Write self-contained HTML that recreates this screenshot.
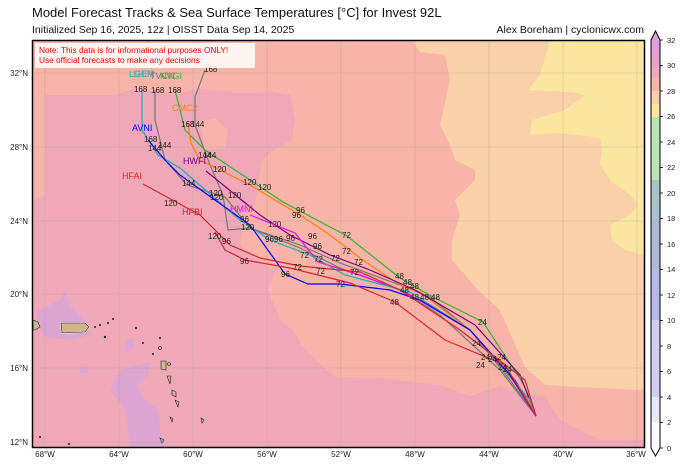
<!DOCTYPE html>
<html><head><meta charset="utf-8"><style>
body{margin:0;background:#fff;}
svg{display:block;font-family:"Liberation Sans","DejaVu Sans",sans-serif;}
</style></head><body>
<svg width="690" height="468" viewBox="0 0 690 468" xmlns="http://www.w3.org/2000/svg">
<text x="32" y="17" font-size="13" fill="#111">Model Forecast Tracks &amp; Sea Surface Temperatures [°C] for Invest 92L</text>
<text x="32" y="33" font-size="10.5" fill="#111">Initialized Sep 16, 2025, 12z | OISST Data Sep 14, 2025</text>
<text x="644" y="33" font-size="10.5" fill="#111" text-anchor="end">Alex Boreham | cyclonicwx.com</text>
<defs><clipPath id="c"><rect x="33" y="41" width="611" height="406"/></clipPath></defs>
<g clip-path="url(#c)">
<rect x="33" y="41" width="611" height="406" fill="#f8b4a8"/>
<!-- pink 29-30 -->
<path d="M33,200 L45,195 L45,95 L115,95 L135,88 L175,95 L200,88 L240,93 L275,92 L290,95 L295,120 L292,140 L275,150 L262,160 L258,185 L255,205 L245,215 L240,245 L265,265 L275,272 L268,290 L280,320 L295,332 L302,346 L322,366 L335,377 L380,378 L440,385 L470,396 L500,386 L520,395 L545,396 L560,420 L600,440 L644,440 L644,447 L33,447 Z" fill="#f0a8b8"/>
<path d="M200,122 L215,118 L228,130 L225,148 L205,150 Z" fill="#f8b4a8"/>
<!-- peach -->
<path d="M412,41 L420,52 L445,55 L450,80 L440,125 L450,145 L455,160 L475,170 L475,180 L455,200 L460,215 L452,240 L452,260 L478,290 L500,310 L513,340 L525,367 L545,385 L578,387 L638,390 L644,390 L644,41 Z" fill="#f9d0a8"/>
<!-- yellow -->
<path d="M550,41 L540,75 L528,90 L570,92 L585,95 L565,110 L532,120 L530,135 L560,133 L600,138 L602,150 L600,165 L610,180 L630,195 L638,205 L630,215 L610,225 L612,240 L625,250 L644,255 L644,41 Z" fill="#fbe6a0"/>
<!-- orchid -->
<path d="M36,312 L50,305 L60,300 L65,290 L70,305 L85,320 L90,335 L70,340 L50,338 L42,334 Z" fill="#dca4d0"/>
<path d="M120,370 L150,362 L148,375 L138,385 L145,400 L158,410 L160,430 L165,447 L130,447 L125,410 L110,390 Z" fill="#dca4d0"/>
<path d="M125,340 L133,338 L135,348 L125,352 Z" fill="#dca4d0"/>
<path d="M80,368 L87,365 L88,373 L80,375 Z" fill="#dca4d0"/>
<!-- grid -->
<g stroke="#999" stroke-width="0.6" opacity="0.5">
<line x1="45" y1="41" x2="45" y2="447"/><line x1="119" y1="41" x2="119" y2="447"/><line x1="193" y1="41" x2="193" y2="447"/><line x1="267" y1="41" x2="267" y2="447"/><line x1="341" y1="41" x2="341" y2="447"/><line x1="415" y1="41" x2="415" y2="447"/><line x1="489" y1="41" x2="489" y2="447"/><line x1="563" y1="41" x2="563" y2="447"/><line x1="637" y1="41" x2="637" y2="447"/>
<line x1="33" y1="73" x2="644" y2="73"/><line x1="33" y1="147" x2="644" y2="147"/><line x1="33" y1="221" x2="644" y2="221"/><line x1="33" y1="294" x2="644" y2="294"/><line x1="33" y1="368" x2="644" y2="368"/><line x1="33" y1="442" x2="644" y2="442"/>
</g>
<!-- land -->
<g fill="#d2b48c" stroke="#222" stroke-width="0.6">
<path d="M33,320 L38,322 L40,327 L35,330 L33,330 Z"/>
<path d="M61,323 L85,323 L89,327 L85,332 L62,333 Z" stroke="#fff" stroke-width="1.5"/>
<path d="M61,323 L85,323 L89,327 L85,332 L62,333 Z"/>
<path d="M161,361 L166,361 L166,370 L161,369 Z"/><path d="M167,376 L171,376 L170,384 Z"/>
<path d="M172,390 L176,392 L176,397 L172,395 Z"/><path d="M175,400 L179,402 L178,407 Z"/>
<path d="M170,417 L173,419 L172,422 Z"/><path d="M201,418 L204,420 L202,423 Z"/>
<path d="M160,438 L164,440 L162,443 Z"/><circle cx="160" cy="348" r="1.5"/><circle cx="169" cy="364" r="1.5"/>
</g>
<g fill="#222"><circle cx="95" cy="327" r="1"/><circle cx="100" cy="325" r="1"/><circle cx="108" cy="323" r="1"/><circle cx="113" cy="319" r="1"/><circle cx="136" cy="328" r="1"/><circle cx="143" cy="343" r="1"/><circle cx="153" cy="354" r="1"/><circle cx="160" cy="338" r="1"/><circle cx="105" cy="337" r="1.2"/><circle cx="40" cy="437" r="1"/><circle cx="69" cy="444" r="1"/></g>
<!-- tracks -->
<g fill="none" stroke-width="1.2">
<polyline stroke="#777" points="205,70 195,97 195,125 210,165 223,195 228,230 250,228 300,245 340,263 400,285 430,297 470,330 510,380 536,416"/>
<polyline stroke="#777" points="155,90 155,120 165,160 187,185 225,197 250,228 300,248 340,268 400,290 440,315 500,370 536,416"/>
<polyline stroke="#2db52d" points="175,90 185,130 205,150 283,202 347,236 400,278 433,297 483,322 524,385 536,416"/>
<polyline stroke="#ff7f0e" points="188,123 191,143 200,160 250,185 300,215 330,235 360,258 400,285 420,292 470,330 525,395 536,416"/>
<polyline stroke="#800080" points="206,171 260,215 290,235 330,255 370,270 415,290 475,325 520,375 536,416"/>
<polyline stroke="#ff00ff" points="250,215 295,233 318,262 360,275 405,292 470,330 515,380 536,416"/>
<polyline stroke="#17b0b0" points="142,90 142,130 158,155 180,168 240,220 270,240 310,255 345,275 410,292 470,330 530,400 536,416"/>
<polyline stroke="#0000ff" points="148,140 165,160 180,175 250,225 285,274 308,284 340,284 390,290 420,300 470,330 510,375 536,416"/>
<polyline stroke="#d62728" points="143,184 200,215 230,245 260,258 300,266 360,272 400,290 460,330 525,380 536,416"/>
<polyline stroke="#d62728" points="215,232 225,250 245,260 290,268 350,283 395,302 445,340 505,365 536,416"/>
</g>
<g font-size="8" fill="#222">
<text x="204" y="72">168</text><text x="134" y="92">168</text><text x="151" y="93">168</text><text x="168" y="93">168</text>
<text x="181" y="127">168</text><text x="191" y="127">144</text><text x="144" y="142">168</text><text x="148" y="151">144</text><text x="158" y="148">144</text>
<text x="198" y="158">144</text><text x="203" y="158">144</text><text x="213" y="172">120</text><text x="182" y="186">144</text>
<text x="243" y="185">120</text><text x="258" y="190">120</text><text x="164" y="206">120</text><text x="209" y="196">120</text><text x="228" y="198">120</text><text x="210" y="200">120</text>
<text x="296" y="213">96</text><text x="292" y="218">96</text><text x="268" y="227">120</text><text x="240" y="222">96</text><text x="241" y="230">120</text>
<text x="208" y="239">120</text><text x="222" y="244">96</text><text x="342" y="238">72</text><text x="308" y="239">96</text><text x="286" y="241">96</text>
<text x="265" y="242">96</text><text x="274" y="242">96</text><text x="342" y="254">72</text><text x="313" y="249">96</text><text x="240" y="264">96</text><text x="331" y="261">72</text>
<text x="300" y="258">72</text><text x="314" y="262">72</text><text x="354" y="265">72</text><text x="293" y="270">72</text><text x="316" y="274">72</text><text x="281" y="277">96</text><text x="350" y="275">72</text><text x="336" y="287">72</text>
<text x="395" y="279">48</text><text x="403" y="285">48</text><text x="410" y="289">48</text><text x="431" y="300">48</text><text x="400" y="293">48</text><text x="410" y="300">48</text><text x="420" y="300">48</text><text x="390" y="305">48</text>
<text x="478" y="325">24</text><text x="472" y="346">24</text><text x="481" y="360">24</text><text x="476" y="368">24</text><text x="488" y="362">24</text><text x="497" y="360">24</text><text x="498" y="370">24</text><text x="503" y="372">24</text>
</g>
<g font-size="9">
<text x="129" y="77" fill="#17b0b0">LGEM</text><text x="132" y="77" fill="#17b0b0" opacity="0.6">SHIP</text><text x="150" y="79" fill="#777">TVCN</text><text x="160" y="79" fill="#2db52d">NVGI</text>
<text x="172" y="111" fill="#ff7f0e">CMC2</text><text x="132" y="131" fill="#0000ff">AVNI</text><text x="183" y="164" fill="#800080">HWFI</text>
<text x="122" y="179" fill="#d62728">HFAI</text><text x="182" y="215" fill="#d62728">HFBI</text><text x="230" y="212" fill="#ff00ff">HMNI</text>
</g>
<rect x="35" y="43" width="220" height="25" fill="#fff" opacity="0.85"/>
<text x="39" y="53" font-size="8.3" fill="#f00">Note: This data is for informational purposes ONLY!</text>
<text x="39" y="63" font-size="8.3" fill="#f00">Use official forecasts to make any decisions</text>
</g>
<rect x="32.5" y="40.5" width="612" height="407" fill="none" stroke="#000" stroke-width="1.5"/>
<g font-size="8" fill="#222">
<text x="28" y="76" text-anchor="end">32°N</text><text x="28" y="150" text-anchor="end">28°N</text><text x="28" y="224" text-anchor="end">24°N</text><text x="28" y="297" text-anchor="end">20°N</text><text x="28" y="371" text-anchor="end">16°N</text><text x="28" y="445" text-anchor="end">12°N</text>
<text x="45" y="457" text-anchor="middle">68°W</text><text x="119" y="457" text-anchor="middle">64°W</text><text x="193" y="457" text-anchor="middle">60°W</text><text x="267" y="457" text-anchor="middle">56°W</text><text x="341" y="457" text-anchor="middle">52°W</text><text x="415" y="457" text-anchor="middle">48°W</text><text x="489" y="457" text-anchor="middle">44°W</text><text x="563" y="457" text-anchor="middle">40°W</text><text x="636" y="457" text-anchor="middle">36°W</text>
</g>
<!-- colorbar -->
<g>
<rect x="651" y="422.5" width="9" height="25.5" fill="#fbfbff"/>
<rect x="651" y="397" width="9" height="25.5" fill="#e8e8f8"/>
<rect x="651" y="320" width="9" height="77" fill="#cfcff2"/>
<rect x="651" y="269" width="9" height="51" fill="#b8b8e6"/>
<rect x="651" y="218" width="9" height="51" fill="#b0b8d8"/>
<rect x="651" y="180" width="9" height="38" fill="#a8c4c8"/>
<rect x="651" y="117" width="9" height="63" fill="#b8e6b8"/>
<rect x="651" y="104" width="9" height="13" fill="#fbe6a0"/>
<rect x="651" y="91" width="9" height="13" fill="#f9d0a8"/>
<rect x="651" y="78" width="9" height="13" fill="#f8b4a8"/>
<rect x="651" y="65" width="9" height="13" fill="#f0a8b8"/>
<rect x="651" y="52" width="9" height="13" fill="#e8a0c8"/>
<rect x="651" y="40" width="9" height="12" fill="#dca0dc"/>
<path d="M651,40 L655.5,31 L660,40 Z" fill="#dca0dc"/>
<path d="M651,448 L655.5,456 L660,448 Z" fill="#fff"/>
<path d="M651,40 L655.5,31 L660,40 L660,448 L655.5,456 L651,448 Z" fill="none" stroke="#000" stroke-width="1"/>
</g>
<g font-size="7.5" fill="#222">
<text x="667" y="43">32</text><text x="667" y="68">30</text><text x="667" y="94">28</text><text x="667" y="119">26</text><text x="667" y="145">24</text><text x="667" y="170">22</text><text x="667" y="196">20</text><text x="667" y="221">18</text><text x="667" y="247">16</text><text x="667" y="272">14</text><text x="667" y="298">12</text><text x="667" y="323">10</text><text x="667" y="349">8</text><text x="667" y="374">6</text><text x="667" y="400">4</text><text x="667" y="425">2</text><text x="667" y="451">0</text>
</g>
<g stroke="#000" stroke-width="0.8">
<line x1="660" y1="40" x2="663" y2="40"/><line x1="660" y1="65.5" x2="663" y2="65.5"/><line x1="660" y1="91" x2="663" y2="91"/><line x1="660" y1="116.5" x2="663" y2="116.5"/><line x1="660" y1="142" x2="663" y2="142"/><line x1="660" y1="167.5" x2="663" y2="167.5"/><line x1="660" y1="193" x2="663" y2="193"/><line x1="660" y1="218.5" x2="663" y2="218.5"/><line x1="660" y1="244" x2="663" y2="244"/><line x1="660" y1="269.5" x2="663" y2="269.5"/><line x1="660" y1="295" x2="663" y2="295"/><line x1="660" y1="320.5" x2="663" y2="320.5"/><line x1="660" y1="346" x2="663" y2="346"/><line x1="660" y1="371.5" x2="663" y2="371.5"/><line x1="660" y1="397" x2="663" y2="397"/><line x1="660" y1="422.5" x2="663" y2="422.5"/><line x1="660" y1="448" x2="663" y2="448"/>
</g>
</svg>
</body></html>
